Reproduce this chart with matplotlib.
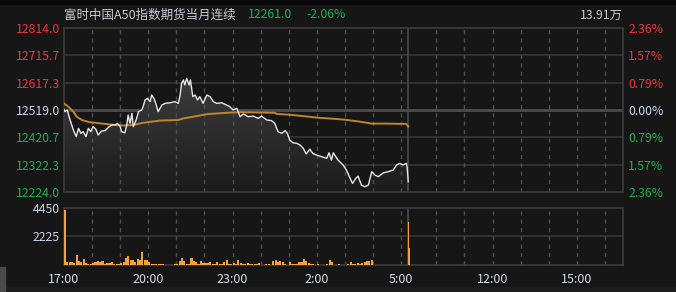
import numpy as np
import matplotlib
matplotlib.use('Agg')
import matplotlib.pyplot as plt
from matplotlib.patches import Polygon, Rectangle
from matplotlib.colors import LinearSegmentedColormap

plt.rcParams['font.family'] = ['Noto Sans CJK SC', 'DejaVu Sans']

# ---- data (minutes from 17:00; day session starts at 735 = 9:00) ----
prev_close = 12519.0
price_ticks = [12814.0, 12715.7, 12617.3, 12519.0, 12420.7, 12322.3, 12224.0]
pct_labels = ['2.36%', '1.57%', '0.79%', '0.00%', '0.79%', '1.57%', '2.36%']

price_min = [0, 2, 7, 13, 20, 26, 31, 36, 41, 47, 52, 57, 62, 68, 73, 80, 88, 95, 102, 109,
             114, 120, 123, 130, 134, 137, 141, 145, 148, 154, 159, 166, 169, 173, 178, 184,
             187, 192, 196, 201, 209, 216, 226, 237, 244, 248, 251, 255, 258, 262, 267, 270,
             275, 280, 285, 290, 297, 305, 312, 319, 326, 337, 347, 354, 361, 369, 376, 383,
             393, 404, 415, 422, 433, 443, 450, 457, 465, 472, 477, 482, 489, 497, 504, 511,
             517, 525, 531, 539, 550, 561, 566, 571, 575, 585, 596, 603, 610, 616, 623, 628,
             635, 642, 650, 657, 664, 671, 682, 692, 703, 710, 717, 724, 731, 733, 735]
price_val = [12521, 12513, 12519, 12483, 12447, 12423, 12453, 12435, 12441, 12423, 12453,
             12441, 12459, 12450, 12429, 12443, 12445, 12457, 12465, 12465, 12471, 12459,
             12441, 12437, 12465, 12501, 12471, 12507, 12459, 12483, 12513, 12519, 12531,
             12555, 12561, 12549, 12573, 12561, 12543, 12513, 12537, 12543, 12545, 12549,
             12543, 12573, 12615, 12627, 12609, 12633, 12609, 12627, 12567, 12573, 12555,
             12567, 12543, 12573, 12567, 12549, 12543, 12545, 12537, 12531, 12519, 12525,
             12495, 12505, 12495, 12497, 12489, 12497, 12483, 12481, 12471, 12441, 12435,
             12445, 12435, 12411, 12401, 12399, 12393, 12381, 12361, 12378, 12363, 12357,
             12351, 12345, 12365, 12339, 12365, 12339, 12321, 12303, 12277, 12255, 12273,
             12281, 12249, 12243, 12249, 12297, 12285, 12279, 12293, 12297, 12303, 12321,
             12327, 12321, 12327, 12309, 12261]

avg_min = [0, 9, 20, 27, 38, 55, 77, 98, 127, 148, 169, 205, 244, 255, 276, 305, 347, 376,
           450, 454, 482, 511, 543, 571, 600, 632, 657, 689, 731, 735]
avg_val = [12543, 12531, 12513, 12495, 12483, 12475, 12471, 12467, 12463, 12465, 12473,
           12481, 12483, 12489, 12495, 12504, 12509, 12511, 12509, 12505, 12502, 12497,
           12491, 12488, 12484, 12477, 12470, 12470, 12469, 12459]

# volume in 5-minute buckets, 17:00 .. 5:10
volume = [4300, 240, 200, 260, 180, 800, 280, 230, 490, 150, 90, 100, 155, 220, 340, 260,
          330, 80, 155, 155, 260, 60, 100, 110, 155, 207, 570, 725, 414, 414, 259, 490, 414,
          1036, 414, 363, 207, 104, 104, 80, 52, 52, 40, 26, 26, 26, 26, 52, 52, 340, 570,
          337, 104, 52, 544, 311, 207, 104, 311, 155, 155, 155, 259, 52, 104, 259, 52, 104,
          259, 414, 104, 104, 155, 104, 414, 155, 104, 104, 155, 52, 52, 104, 52, 155, 26,
          26, 104, 104, 26, 337, 414, 200, 311, 207, 104, 26, 259, 52, 104, 80, 259, 259,
          490, 311, 155, 80, 52, 26, 104, 26, 26, 26, 52, 414, 207, 26, 26, 104, 26, 26, 26,
          104, 259, 104, 104, 155, 104, 155, 207, 285, 285, 363, 26, 26, 26, 26, 26, 26, 26,
          26, 26, 26, 26, 26, 0, 26, 26]
close_min = [735, 737]
close_vol = [3360, 1340]
vol_ticks = [4450, 2225]

time_labels = ['17:00', '20:00', '23:00', '2:00', '5:00', '12:00', '15:00']
time_pos = [0, 180, 360, 540, 720, 915, 1095]
hour_lines = [60, 120, 180, 240, 300, 360, 420, 480, 540, 600, 660, 720,
              795, 855, 915, 975, 1035, 1095, 1155]
session_break = 735

# ---- style ----
BG = '#161616'
GRID = '#383838'
RED = '#f0343c'
GREEN = '#1fae4e'
PALE = '#c9d6ea'
XMAX = 1193

fig = plt.figure(figsize=(6.76, 2.92), dpi=100, facecolor=BG)
fig.patches.append(Rectangle((0, 1 - 4 / 292), 1, 4 / 292, transform=fig.transFigure,
                             color='#080808', zorder=0))
fig.patches.append(Rectangle((0, 0), 1, 5 / 292, transform=fig.transFigure,
                             color='#1c1c1c', zorder=0))
fig.patches.append(Rectangle((0, 0), 5 / 676, 25 / 292, transform=fig.transFigure,
                             color='#4a4a4a', zorder=0))

ax = fig.add_axes([64 / 676, 1 - 192 / 292, 558.7 / 676, 164 / 292])
axv = fig.add_axes([64 / 676, 1 - 265 / 292, 558.7 / 676, 57.3 / 292])

for a in (ax, axv):
    a.set_facecolor(BG)
    for s in a.spines.values():
        s.set_color('#3c3c3c')
        s.set_linewidth(1.2)
    for h in hour_lines:
        a.plot([h, h], [0, 1], transform=a.get_xaxis_transform(), color='#4e4e4e',
               lw=1.0, dashes=[3, 3], zorder=2.5)
    a.axvline(session_break, color='#4a4a4a', lw=1.2, zorder=2.5)
    a.tick_params(length=0)

# price panel
for p in price_ticks[1:-1]:
    if p == prev_close:
        ax.axhline(p, color='#4c4c4c', lw=2.0, zorder=1)
    else:
        ax.axhline(p, color=GRID, lw=1.1, zorder=1)

poly = Polygon(list(zip(price_min, price_val)) + [(price_min[-1], price_ticks[-1]),
                                                  (price_min[0], price_ticks[-1])],
               closed=True, facecolor='none', edgecolor='none')
ax.add_patch(poly)
cmap = LinearSegmentedColormap.from_list('fade', ['#1b1b1b', '#3c3c3c'])
grad = np.linspace(1, 0, 256).reshape(-1, 1)
im = ax.imshow(grad, cmap=cmap, aspect='auto', zorder=2,
               extent=[0, price_min[-1], price_ticks[-1], max(price_val)])
im.set_clip_path(poly)

ax.plot(avg_min, avg_val, color='#c0842e', lw=1.4, zorder=3)
ax.plot(price_min, price_val, color='#e6e6e6', lw=1.0, zorder=4)
ax.set_xlim(0, XMAX)
ax.set_ylim(price_ticks[-1], price_ticks[0])

ax.set_xticks([])
ax.set_yticks(price_ticks)
ax.set_yticklabels([f'{p:.1f}' for p in price_ticks], fontsize=8.8)
ax.tick_params(axis='y', pad=3)
colors = [RED, RED, RED, PALE, GREEN, GREEN, GREEN]
for lab, c in zip(ax.get_yticklabels(), colors):
    lab.set_color(c)

ax2 = ax.twinx()
ax2.set_ylim(ax.get_ylim())
ax2.set_yticks(price_ticks)
ax2.set_yticklabels(pct_labels, fontsize=8.8)
ax2.tick_params(length=0, pad=4)
for lab, c in zip(ax2.get_yticklabels(), colors):
    lab.set_color(c)
for s in ax2.spines.values():
    s.set_visible(False)

# volume panel
axv.axhline(vol_ticks[1], color=GRID, lw=1.1, zorder=1)
vol_min = np.arange(len(volume)) * 5
axv.bar(vol_min, volume, width=4.4, align='edge', color='#f2a23a', zorder=3, linewidth=0)
axv.bar(close_min, close_vol, width=1.8, align='edge', color='#f2a23a', zorder=3, linewidth=0)
axv.set_xlim(0, XMAX)
axv.set_ylim(0, vol_ticks[0])
axv.set_yticks(vol_ticks)
axv.set_yticklabels([str(v) for v in vol_ticks], fontsize=8.8, color=PALE)
axv.tick_params(axis='y', pad=3)
axv.set_xticks(time_pos)
axv.set_xticklabels(time_labels, fontsize=9, color='#d4dcea')
axv.tick_params(axis='x', pad=6)

# header
fig.text(64 / 676, 1 - 15 / 292, '富时中国A50指数期货当月连续', fontsize=9, color='#c4ccd8',
         va='center', ha='left')
fig.text(248 / 676, 1 - 15 / 292, '12261.0', fontsize=8.8, color=GREEN, va='center', ha='left')
fig.text(306 / 676, 1 - 15 / 292, '-2.06%', fontsize=8.8, color=GREEN, va='center', ha='left')
fig.text(622.7 / 676, 1 - 15 / 292, '13.91万', fontsize=8.8, color='#c4ccd8',
         va='center', ha='right')

fig.savefig('out.png', dpi=100, facecolor=BG)
